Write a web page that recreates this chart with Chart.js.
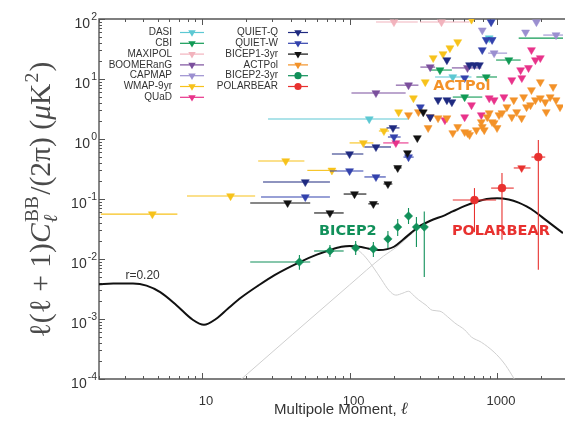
<!DOCTYPE html>
<html>
<head>
<meta charset="utf-8">
<title>B-mode power spectrum</title>
<script src="https://cdn.jsdelivr.net/npm/chart.js@4.4.1/dist/chart.umd.min.js"></script>
<style>
  html, body { margin: 0; padding: 0; background: #fff; overflow: hidden; }
</style>
</head>
<body>
<canvas id="bb" width="570" height="423"></canvas>
<script>
// theory: r=0.20 total, lensing and tensor-only parts
const totalL = [2, 2.5, 3.4, 4.2, 5.2, 6.7, 8.6, 10.3, 12.4, 15, 18.5, 24, 31, 46, 60, 73, 88, 100, 120, 140, 158, 180, 200, 230, 260, 292, 350, 445, 500, 600, 733, 850, 1000, 1200, 1400, 1585, 1800, 2060, 2400, 2800];
const totalV = [0.0038, 0.0039, 0.0039, 0.0036, 0.0028, 0.0017, 0.00098, 0.0008, 0.001, 0.0015, 0.0023, 0.0036, 0.0054, 0.0089, 0.0118, 0.014, 0.016, 0.0165, 0.0158, 0.0146, 0.0141, 0.0146, 0.016, 0.021, 0.027, 0.034, 0.043, 0.054, 0.062, 0.076, 0.091, 0.1, 0.103, 0.098, 0.087, 0.075, 0.062, 0.048, 0.036, 0.027];
const lensL = [17, 100, 170, 210, 250, 292];
const lensV = [0.0000835, 0.0037, 0.0112, 0.016, 0.0235, 0.0325];
const tensL = [88, 100, 111, 125, 144, 165, 185, 206, 230, 251, 275, 293, 330, 363, 410, 460, 517, 603, 671, 782, 955, 1113, 1259, 1340];
const tensV = [0.0158, 0.016, 0.0147, 0.0115, 0.0074, 0.0045, 0.003, 0.0025, 0.0027, 0.0029, 0.0024, 0.0021, 0.0017, 0.0014, 0.00135, 0.0011, 0.00086, 0.00066, 0.0005, 0.00041, 0.00028, 0.000185, 0.000117, 0.00009];

// experiments (ell, value, bin edges)
const dasiL = [136, 501, 885];
const dasiV = [2.15, 10.8, 48];
const dasiX = [[28, 251], [380, 671], [800, 980]];

const cbiL = [410, 603, 845, 1202, 3200];
const cbiV = [14.1, 5.0, 10.8, 20.7, 48];
const cbiX = [[352, 494], [501, 794], [724, 1000], [985, 1445], [1402, 6000]];

const maxiL = [200, 420];
const maxiV = [89, 89];
const maxiX = [[151, 290], [300, 650]];

const boomL = [151, 251, 352, 630];
const boomV = [5.85, 7.9, 15.8, 15.3];
const boomX = [[103, 240], [206, 293], [302, 380], [494, 782]];

const capL = [794, 955, 1561, 1849, 2512];
const capV = [65, 27, 60, 89, 54];
const capX = [null, [870, 1170], null, null, [2057, 2800]];

const wmapL = [4.6, 15.6, 36.9, 75.9, 124, 171, 215, 271, 326, 369, 430, 479, 541, 671];
const wmapV = [0.056, 0.112, 0.43, 0.30, 0.86, 1.36, 2.8, 4.8, 8.9, 22.4, 26.1, 32.8, 41.4, 98];
const wmapX = [[2.06, 6.8], [7.9, 22.9], [24, 49.4], [51.7, 81.9], [100, 145], [158, 185], null, null, null, null, null, null, null, null];

const quadL = [206, 443, 603, 671, 782, 885, 955, 1113, 1259, 1472, 1445, 1634, 1820, 1965, 1711];
const quadV = [0.86, 2.07, 2.32, 3.68, 2.51, 4.8, 4.46, 5.0, 9.6, 10.4, 14.1, 15.3, 20.7, 22.4, 30.5];
const quadX = [[169, 251]];

const qqL = [50.1, 100, 151, 197, 352, 398, 457, 494, 457, 651, 703, 759];
const qqV = [0.192, 0.562, 0.736, 1.53, 2.32, 4.46, 4.46, 4.13, 20.7, 17.1, 17.1, 17.1];
const qqX = [[25.9, 73.6], [75.9, 124], [126, 191], [178, 218]];

const qwL = [50.1, 100, 151, 200, 251, 302, 603, 794, 845, 926, 912];
const qwV = [0.108, 0.293, 0.233, 1.08, 0.50, 3.4, 10.4, 30.5, 45, 45, 89];
const qwX = [[25.1, 73.6], [73.6, 124], [126, 176], [182, 222], [232, 272]];

const b1L = [38, 73.6, 108, 145, 182, 212, 247, 288, 316];
const b1V = [0.086, 0.0585, 0.121, 0.083, 0.178, 0.33, 0.585, 1.04, 2.8];
const b1X = [[21.2, 54.1], [57.5, 91.2], [91.2, 130], [134, 158], [170, 195], [200, 225]];

const actL = [251, 293, 341, 352, 398, 457, 501, 541, 603, 631, 651, 724, 782, 794, 819, 858, 885, 926, 955, 1000, 1031, 1080, 1166, 1259, 1298, 1359, 1468, 1514, 1585, 1686, 1711, 1820, 1965, 1965, 2122, 2154, 2291, 2399, 2512, 2672];
const actV = [2.51, 2.82, 1.53, 2.32, 2.23, 2.23, 1.26, 1.59, 1.31, 1.26, 1.17, 1.41, 1.92, 1.59, 1.41, 2.32, 2.71, 1.92, 1.85, 1.53, 2.51, 2.71, 3.41, 2.32, 4.46, 2.82, 2.23, 5.0, 3.41, 3.68, 6.56, 4.46, 8.9, 4.8, 4.13, 2.82, 5.0, 7.4, 4.46, 3.41];

const b2L = [45.7, 73.6, 110, 145, 182, 212, 251, 284, 321];
const b2V = [0.0089, 0.0136, 0.0153, 0.0147, 0.0216, 0.034, 0.052, 0.034, 0.034];
const b2X = [[21.2, 54.1], [57.5, 91.2]];
const b2Y = [[0.0066, 0.0117], [0.0108, 0.0171], [0.0117, 0.02], [0.0108, 0.0192], [0.0153, 0.0293], [0.0242, 0.0464], [0.0383, 0.0708], [0.0158, 0.05], [0.005, 0.062]];

const pbL = [703, 1080, 1468, 1905];
const pbV = [0.096, 0.152, 0.329, 0.50];
const pbX = [[501, 985], [912, 1298], [1298, 1686], [1711, 2122]];
const pbY = [[0.028, 0.152], [0.021, 0.271], null, [0.0066, 0.96]];

// axis labels and in-plot notes
const xTickLabels = [10, 100, 1000];
const yTickExps = [-4, -3, -2, -1, 0, 1, 2];
const noteText = ['ACTPol', 'BICEP2', 'POLARBEAR', 'r=0.20'];
const noteL = [369, 62, 494, 3.02];
const noteV = [7.6, 0.029, 0.029, 0.0052];
const noteColor = ['#f39229', '#11905a', '#e8312f', '#333333'];

const legendLeft = ['DASI', 'CBI', 'MAXIPOL', 'BOOMERanG', 'CAPMAP', 'WMAP-9yr', 'QUaD'];
const legendRight = ['QUIET-Q', 'QUIET-W', 'BICEP1-3yr', 'ACTPol', 'BICEP2-3yr', 'POLARBEAR'];

const sans = '"Liberation Sans", Arial, Helvetica, sans-serif';
const serif = '"Liberation Serif", "DejaVu Serif", serif';

function pts(ls, vs) {
  return ls.map((l, i) => ({ x: l, y: vs[i] }));
}

function marks(label, color, ls, vs, xErr, extra) {
  return Object.assign({
    label: label,
    data: pts(ls, vs),
    xErr: xErr,
    borderColor: color,
    backgroundColor: color,
    pointStyle: 'triangle',
    pointRotation: 180,
    pointRadius: 4.6,
    pointBorderWidth: 0.5,
    showLine: false
  }, extra || {});
}

function curve(label, color, width, ls, vs) {
  return {
    label: label,
    data: pts(ls, vs),
    showLine: true,
    borderColor: color,
    borderWidth: width,
    pointRadius: 0,
    cubicInterpolationMode: 'monotone',
    fill: false
  };
}

const datasets = [
  marks('POLARBEAR', '#e8312f', pbL, pbV, pbX, {
    yErr: pbY, pointStyle: ['circle', 'circle', 'triangle', 'circle'], pointRotation: [0, 0, 180, 0],
    pointRadius: [4, 4, 4.5, 4], legendStyle: 'circle'
  }),
  marks('BICEP2-3yr', '#11905a', b2L, b2V, b2X, { yErr: b2Y, pointStyle: 'rectRot', pointRotation: 0, pointRadius: 4.2, legendStyle: 'circle' }),
  marks('BICEP1-3yr', '#111111', b1L, b1V, b1X),
  marks('QUIET-Q', '#1f2a80', qqL, qqV, qqX),
  marks('QUIET-W', '#3342ad', qwL, qwV, qwX),
  marks('ACTPol', '#f39229', actL, actV, null),
  marks('QUaD', '#e8338a', quadL, quadV, quadX),
  marks('WMAP-9yr', '#f7c21b', wmapL, wmapV, wmapX),
  marks('CAPMAP', '#9b8fd0', capL, capV, capX),
  marks('BOOMERanG', '#7b4f9d', boomL, boomV, boomX),
  marks('MAXIPOL', '#f2b3bd', maxiL, maxiV, maxiX),
  marks('CBI', '#119a55', cbiL, cbiV, cbiX),
  marks('DASI', '#5cc8d3', dasiL, dasiV, dasiX),
  curve('r=0.20', '#111111', 2, totalL, totalV),
  curve('lensing', '#cfcfcf', 1, lensL, lensV),
  curve('tensor', '#cfcfcf', 1, tensL, tensV)
];

function clipArea(ctx, a) {
  ctx.beginPath();
  ctx.rect(a.left, a.top, a.right - a.left, a.bottom - a.top);
  ctx.clip();
}

const decor = {
  id: 'decor',
  beforeDatasetsDraw(chart) {
    const { ctx, chartArea: a, scales: { x, y } } = chart;
    ctx.save();
    ctx.strokeStyle = '#555';
    ctx.lineWidth = 1.4;
    ctx.beginPath();
    ctx.moveTo(a.right + 2, a.top);
    ctx.lineTo(a.left, a.top);
    ctx.lineTo(a.left, a.bottom);
    ctx.lineTo(a.right + 2, a.bottom);
    ctx.stroke();
    ctx.lineWidth = 1;
    for (let e = -4; e <= 2; e++) {
      for (let k = 1; k <= 9; k++) {
        const v = k * Math.pow(10, e);
        if (v > 100.0001) break;
        const py = Math.round(y.getPixelForValue(v)) + 0.5;
        ctx.beginPath();
        ctx.moveTo(a.left, py);
        ctx.lineTo(a.left + (k === 1 ? 6 : 3), py);
        ctx.stroke();
      }
    }
    for (let e = 0; e <= 3; e++) {
      for (let k = 1; k <= 9; k++) {
        const v = k * Math.pow(10, e);
        if (v < x.min || v > x.max) continue;
        const px = Math.round(x.getPixelForValue(v)) + 0.5;
        const len = k === 1 ? 6 : 3;
        ctx.beginPath();
        ctx.moveTo(px, a.bottom);
        ctx.lineTo(px, a.bottom - len);
        ctx.moveTo(px, a.top);
        ctx.lineTo(px, a.top + len);
        ctx.stroke();
      }
    }
    ctx.restore();
  },
  beforeDatasetDraw(chart, args) {
    const ds = chart.data.datasets[args.index];
    if (!ds.xErr && !ds.yErr) return;
    const { ctx, chartArea: a, scales: { x, y } } = chart;
    ctx.save();
    clipArea(ctx, a);
    ctx.strokeStyle = ds.borderColor;
    ctx.lineWidth = 1.1;
    ds.data.forEach((p, i) => {
      const px = x.getPixelForValue(p.x);
      const py = y.getPixelForValue(p.y);
      const xe = ds.xErr && ds.xErr[i];
      const ye = ds.yErr && ds.yErr[i];
      if (xe) {
        ctx.beginPath();
        ctx.moveTo(x.getPixelForValue(xe[0]), py);
        ctx.lineTo(x.getPixelForValue(xe[1]), py);
        ctx.stroke();
      }
      if (ye) {
        ctx.beginPath();
        ctx.moveTo(px, y.getPixelForValue(ye[0]));
        ctx.lineTo(px, y.getPixelForValue(ye[1]));
        ctx.stroke();
      }
    });
    ctx.restore();
  },
  afterDraw(chart) {
    const { ctx, chartArea: a, scales: { x, y } } = chart;
    ctx.save();
    ctx.fillStyle = '#333';
    ctx.textBaseline = 'alphabetic';
    ctx.textAlign = 'left';

    // y tick labels 10^n
    yTickExps.forEach(e => {
      const py = y.getPixelForValue(Math.pow(10, e));
      const es = String(e);
      ctx.font = '10.5px ' + sans;
      const ew = ctx.measureText(es).width;
      ctx.fillText(es, a.left - 2 - ew, py + 1);
      ctx.font = '14px ' + sans;
      const bw = ctx.measureText('10').width;
      ctx.fillText('10', a.left - 3 - ew - bw, py + 9);
    });

    // x title
    ctx.font = '15px ' + sans;
    const t1 = 'Multipole Moment, ';
    const w1 = ctx.measureText(t1).width;
    ctx.font = 'italic 17px ' + serif;
    const w2 = ctx.measureText('ℓ').width;
    const cx = (a.left + a.right) / 2 + 10;
    ctx.font = '15px ' + sans;
    ctx.fillText(t1, cx - (w1 + w2) / 2, 414);
    ctx.font = 'italic 17px ' + serif;
    ctx.fillText('ℓ', cx - (w1 + w2) / 2 + w1, 414);

    // y title, rotated
    drawYTitle(ctx, 50, 199.5, 276);

    // notes in the plot
    noteText.forEach((t, i) => {
      ctx.font = i < 3 ? 'bold 14.5px "DejaVu Sans", sans-serif' : '12px ' + sans;
      ctx.fillStyle = noteColor[i];
      ctx.textBaseline = 'middle';
      ctx.fillText(t, x.getPixelForValue(noteL[i]), y.getPixelForValue(noteV[i]));
    });

    // legend
    ctx.textBaseline = 'middle';
    ctx.font = '10px ' + sans;
    const cols = [
      { names: legendLeft, tx: a.left + 73, l0: a.left + 81, l1: a.left + 105 },
      { names: legendRight, tx: a.left + 179, l0: a.left + 189, l1: a.left + 209 }
    ];
    cols.forEach(col => {
      col.names.forEach((n, r) => {
        const ds = chart.data.datasets.find(d => d.label === n);
        const ly = a.top + 13.5 + r * 10.8;
        ctx.fillStyle = '#333';
        ctx.textAlign = 'right';
        ctx.fillText(n, col.tx, ly);
        ctx.strokeStyle = ds.borderColor;
        ctx.fillStyle = ds.borderColor;
        ctx.lineWidth = 1.2;
        ctx.beginPath();
        ctx.moveTo(col.l0, ly);
        ctx.lineTo(col.l1, ly);
        ctx.stroke();
        const st = ds.legendStyle || 'triangle';
        Chart.helpers.drawPoint(ctx, {
          pointStyle: st, rotation: st === 'triangle' ? 180 : 0,
          radius: st === 'triangle' ? 4.3 : 3.6, borderWidth: 0
        }, (col.l0 + col.l1) / 2, ly);
      });
    });
    ctx.restore();
  }
};

function drawYTitle(ctx, cx, cy, span) {
  const base = 20;
  const f = (s, it) => (it ? 'italic ' : '') + s.toFixed(1) + 'px ' + serif;
  const parts = [
    { t: 'ℓ(ℓ + 1)', it: false },
    { t: 'C', it: true },
    { sup: 'BB', sub: 'ℓ' },
    { t: '/(2π) (', it: false },
    { t: 'μ', it: true },
    { t: 'K', it: false },
    { sup: '2' },
    { t: ')', it: false }
  ];
  const widthAt = (s) => {
    let w = 0;
    parts.forEach(p => {
      if (p.t) { ctx.font = f(s, p.it); w += ctx.measureText(p.t).width; }
      else {
        ctx.font = f(s * 0.66, false);
        const ws = ctx.measureText(p.sup).width;
        ctx.font = f(s * 0.66, true);
        const wb = p.sub ? ctx.measureText(p.sub).width : 0;
        w += Math.max(ws, wb) + s * 0.08;
      }
    });
    return w;
  };
  const size = base * span / widthAt(base);
  const total = widthAt(size);
  ctx.save();
  ctx.translate(cx, cy);
  ctx.rotate(-Math.PI / 2);
  ctx.fillStyle = '#4a4a4a';
  ctx.textAlign = 'left';
  ctx.textBaseline = 'alphabetic';
  let px = -total / 2;
  parts.forEach(p => {
    if (p.t) {
      ctx.font = f(size, p.it);
      ctx.fillText(p.t, px, 0);
      px += ctx.measureText(p.t).width;
    } else {
      ctx.font = f(size * 0.66, false);
      const ws = ctx.measureText(p.sup).width;
      ctx.fillText(p.sup, px + size * 0.04, -size * 0.42);
      let wb = 0;
      if (p.sub) {
        ctx.font = f(size * 0.66, true);
        wb = ctx.measureText(p.sub).width;
        ctx.fillText(p.sub, px + size * 0.02, size * 0.22);
      }
      px += Math.max(ws, wb) + size * 0.08;
    }
  });
  ctx.restore();
}

new Chart(document.getElementById('bb'), {
  type: 'scatter',
  data: { datasets: datasets },
  options: {
    responsive: false,
    animation: false,
    events: [],
    layout: { padding: { top: 19, right: 0, bottom: 0, left: 0 } },
    plugins: { legend: { display: false }, tooltip: { enabled: false } },
    scales: {
      x: {
        type: 'logarithmic',
        min: 2,
        max: 2800,
        grid: { display: false },
        border: { display: false },
        ticks: {
          autoSkip: false,
          maxRotation: 0,
          padding: 7,
          labelOffset: 4,
          color: '#333',
          font: { family: sans, size: 13 },
          callback: (v) => xTickLabels.includes(v) ? String(v) : ''
        },
        afterFit: (s) => { s.height = 44; }
      },
      y: {
        type: 'logarithmic',
        min: 1e-4,
        max: 100,
        grid: { display: false },
        border: { display: false },
        ticks: { display: false },
        afterFit: (s) => { s.width = 99; }
      }
    }
  },
  plugins: [decor]
});
</script>
</body>
</html>
